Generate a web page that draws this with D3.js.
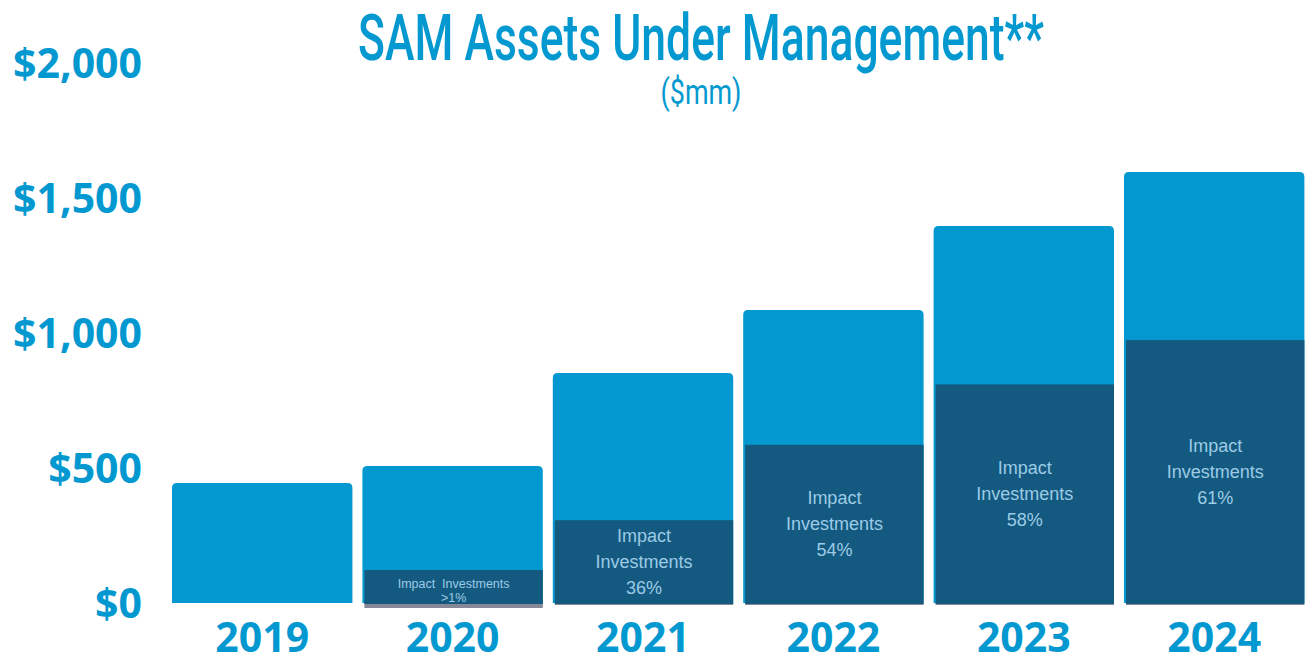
<!DOCTYPE html>
<html>
<head>
<meta charset="utf-8">
<script src="https://cdn.jsdelivr.net/npm/d3@7"></script>
<style>
  html, body { margin: 0; padding: 0; background: #ffffff; }
  svg { display: block; }
</style>
</head>
<body>
<svg id="chart" width="1309" height="658"></svg>
<script>
// Assets under management by year ($mm)
const years = ["2019", "2020", "2021", "2022", "2023", "2024"];
const totalAUM = [444, 507, 852, 1085, 1396, 1596];
// Share of AUM held in impact investments (%); 2019 has no impact sleeve
const impactPct = [null, 1, 36, 54, 58, 61];
const impactLabels = [null, ">1%", "36%", "54%", "58%", "61%"];
const yTicks = [0, 500, 1000, 1500, 2000];

const BLUE = "#0399d0";
const NAVY = "#145a80";
const SHADOW = "#868898";
const LABEL = "#9ccbe6";

const svg = d3.select("#chart");

const x = d3.scaleBand()
  .domain(years)
  .range([172, 1304.4])
  .paddingInner(0.0525)
  .paddingOuter(0);

const y = d3.scaleLinear().domain([0, 2000]).range([603, 63]);

// Condensed heading: measure natural width, then squeeze horizontally
function condensedText(str, cx, baseline, size, weight, targetWidth) {
  const g = svg.append("g");
  const t = g.append("text")
    .attr("x", 0).attr("y", 0)
    .attr("text-anchor", "middle")
    .attr("font-family", "Roboto, sans-serif")
    .attr("font-weight", weight)
    .attr("font-size", size)
    .attr("fill", BLUE)
    .text(str);
  const natural = t.node().getComputedTextLength();
  g.attr("transform", `translate(${cx},${baseline}) scale(${targetWidth / natural},1)`);
}

condensedText("SAM Assets Under Management**", 701, 60, 64, 500, 686);
condensedText("($mm)", 701, 104, 36, 400, 81);

// Y axis labels
const yAxis = d3.axisLeft(y)
  .tickValues(yTicks)
  .tickSize(0)
  .tickPadding(0)
  .tickFormat(d => "$" + d3.format(",")(d));

const yg = svg.append("g").attr("transform", "translate(142,0)").call(yAxis);
yg.select(".domain").remove();
yg.selectAll("text")
  .attr("font-family", "'Open Sans', sans-serif")
  .attr("font-weight", 700)
  .attr("font-size", 41)
  .attr("fill", BLUE)
  .attr("dy", "0.36em");

// X axis labels
const xAxis = d3.axisBottom(x).tickSize(0).tickPadding(0);
const xg = svg.append("g").attr("transform", "translate(0,652)").call(xAxis);
xg.select(".domain").remove();
xg.selectAll("text")
  .attr("font-family", "'Open Sans', sans-serif")
  .attr("font-weight", 700)
  .attr("font-size", 41)
  .attr("fill", BLUE)
  .attr("dy", 0);

const rows = years.map((yr, i) => ({
  year: yr,
  total: totalAUM[i],
  pct: impactPct[i],
  label: impactLabels[i]
}));

// Total AUM bars with rounded top corners
function topRounded(x0, y0, w, h, r) {
  return `M${x0},${y0 + h}V${y0 + r}Q${x0},${y0} ${x0 + r},${y0}` +
         `H${x0 + w - r}Q${x0 + w},${y0} ${x0 + w},${y0 + r}V${y0 + h}Z`;
}

svg.append("g").selectAll("path")
  .data(rows)
  .join("path")
  .attr("d", d => topRounded(x(d.year), y(d.total), x.bandwidth(), y(0) - y(d.total), 5))
  .attr("fill", BLUE);

// Impact investment segments
const impactRows = rows.filter(d => d.pct !== null);
const segG = svg.append("g");

impactRows.forEach(d => {
  const value = d.total * d.pct / 100;
  const x0 = x(d.year) + 2;
  const w = x.bandwidth() - 2;
  const top = y(value);
  const h = y(0) - top;

  if (d.pct < 5) {
    // Thin segment: a callout box carries the label
    segG.append("rect")
      .attr("x", x0).attr("y", y(0)).attr("width", w).attr("height", 5)
      .attr("fill", SHADOW);
    segG.append("rect")
      .attr("x", x0).attr("y", 570).attr("width", w).attr("height", y(0) - 570 + 1)
      .attr("fill", NAVY);
    segG.append("rect")
      .attr("x", x0).attr("y", top).attr("width", w).attr("height", h)
      .attr("fill", NAVY);
    const cx = x0 + w / 2;
    segG.append("text")
      .attr("x", cx).attr("y", 588).attr("text-anchor", "middle")
      .attr("font-family", "'Liberation Sans', Arial, sans-serif")
      .attr("font-size", 12.5).attr("fill", LABEL)
      .attr("xml:space", "preserve")
      .text("Impact  Investments");
    segG.append("text")
      .attr("x", cx).attr("y", 602).attr("text-anchor", "middle")
      .attr("font-family", "'Liberation Sans', Arial, sans-serif")
      .attr("font-size", 12.5).attr("fill", LABEL)
      .text(d.label);
  } else {
    segG.append("rect")
      .attr("x", x0).attr("y", y(0)).attr("width", w).attr("height", 2)
      .attr("fill", SHADOW);
    segG.append("rect")
      .attr("x", x0).attr("y", top).attr("width", w).attr("height", h + 1)
      .attr("fill", NAVY);
    const cx = x0 + w / 2;
    const cy = top + h / 2;
    const lines = ["Impact", "Investments", d.label];
    lines.forEach((t, k) => {
      segG.append("text")
        .attr("x", cx).attr("y", cy + (k - 1) * 26)
        .attr("dy", "0.35em")
        .attr("text-anchor", "middle")
        .attr("font-family", "'Liberation Sans', Arial, sans-serif")
        .attr("font-size", 18).attr("fill", LABEL)
        .text(t);
    });
  }
});
</script>
</body>
</html>
